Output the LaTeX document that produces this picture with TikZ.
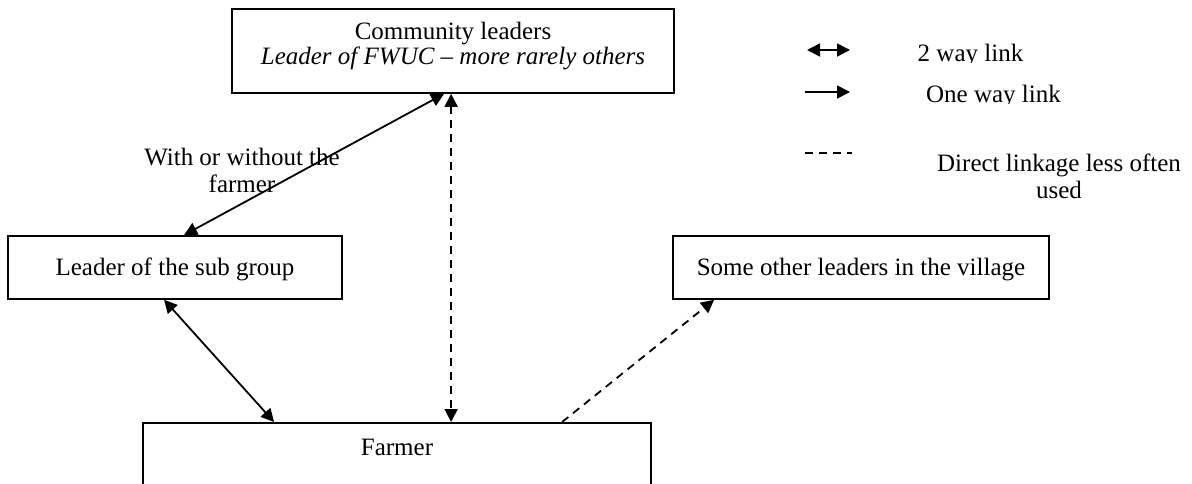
\documentclass[tikz,border=0pt]{standalone}
\usepackage{fontspec}
\setmainfont{Liberation Serif}
\usetikzlibrary{arrows.meta,calc}
\tikzset{
  fnt/.style={font=\fontsize{12.5}{13.5}\selectfont},
  box/.style={draw, line width=0.9pt, inner xsep=0pt, inner ysep=0pt, anchor=north, fnt},
  link/.style={line width=0.9pt},
  tip/.tip={Triangle[length=6.5pt,width=6.5pt]},
  twoway/.style={link, tip-tip},
  oneway/.style={link, -tip},
  dashline/.style={dash pattern=on 4pt off 3pt},
  txt/.style={fnt, inner sep=0pt, anchor=base},
}
\begin{document}
\begin{tikzpicture}[x=0.5pt,y=-0.5pt]
\useasboundingbox (0,0) rectangle (1192,483);
\clip (0,0) rectangle (1192,483);

% boxes
\node[box, minimum width=221pt, text height=15.5pt, text depth=26.5pt] (comm) at (453,8)
  {\fontsize{12.5}{11.8}\selectfont\begin{tabular}[t]{@{}c@{}}Community leaders\\ \textit{Leader of FWUC – more rarely others}\end{tabular}};
\node[box, minimum width=167pt, text height=20pt, text depth=11.5pt] (sub) at (175,235) {Leader of the sub group};
\node[box, minimum width=188pt, text height=20pt, text depth=11.5pt] (other) at (861,235) {Some other leaders in the village};
\node[box, minimum width=254pt, text height=16.5pt, text depth=60pt] (farmer) at (397,422) {Farmer};

% connectors
\draw[twoway] ($(sub.north west)+(177,0)$) -- ($(comm.south west)+(213,0)$);
\draw[twoway,dashline] ($(comm.south west)+(220,0)$) -- ($(farmer.north west)+(309,0)$);
\draw[twoway] ($(sub.south west)+(157,0)$) -- ($(farmer.north west)+(132,0)$);
\draw[oneway,dashline] ($(farmer.north west)+(420,0)$) -- ($(other.south west)+(42,0)$);

% connector label
\node[txt] (lbl) at (242,165)
  {\fontsize{12.5}{13.5}\selectfont\begin{tabular}[t]{@{}c@{}}With or without the\\ farmer\end{tabular}};

% legend
\coordinate (l1a) at (807,50);
\coordinate (l1b) at (850,50);
\coordinate (l2a) at (805,92);
\coordinate (l2b) at (850,92);
\coordinate (l3a) at (805,153);
\coordinate (l3b) at (852,153);
\draw[twoway] (l1a) -- (l1b);
\draw[oneway] (l2a) -- (l2b);
\draw[link,dashline] (l3a) -- (l3b);
\begin{scope}
\clip (880,30) rectangle (1100,62.5);
\node[txt] (t1) at (970.5,61) {2 way link};
\end{scope}
\begin{scope}
\clip (880,75) rectangle (1100,103.5);
\node[txt] (t2) at (993.5,102) {One way link};
\end{scope}
\node[txt] (t3) at (1059,171)
  {\fontsize{12.5}{13.5}\selectfont\begin{tabular}[t]{@{}c@{}}Direct linkage less often\\ used\end{tabular}};
\end{tikzpicture}
\end{document}
